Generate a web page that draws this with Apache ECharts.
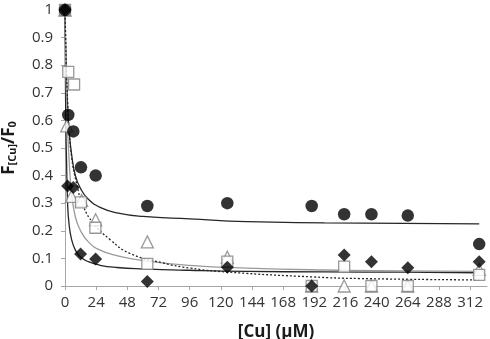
<!DOCTYPE html>
<html>
<head>
<meta charset="utf-8">
<script src="https://cdn.jsdelivr.net/npm/echarts@6/dist/echarts.min.js"></script>
<style>
  html, body { margin: 0; padding: 0; background: #fff; }
  #chart { width: 490px; height: 339px; }
</style>
</head>
<body>
<div id="chart"></div>
<script>
// measured points, one x/y pair of arrays per series
const circleX = [0, 2.5, 6.4, 12.3, 23.6, 63.4, 125, 190, 215, 236, 264, 319];
const circleY = [1, 0.62, 0.56, 0.43, 0.40, 0.29, 0.30, 0.29, 0.26, 0.26, 0.255, 0.152];
const diamondX = [0, 2, 6.4, 12, 23.6, 63.4, 125, 190, 215, 236, 264, 319];
const diamondY = [1, 0.362, 0.357, 0.116, 0.098, 0.016, 0.068, 0, 0.112, 0.088, 0.066, 0.088];
const squareX = [0, 2.5, 7, 12.3, 23.4, 63.4, 125, 190, 215, 236, 264, 319];
const squareY = [1, 0.776, 0.73, 0.303, 0.211, 0.08, 0.088, 0, 0.07, 0, 0, 0.04];
const triangleX = [0, 1.3, 5, 12.8, 23.6, 63.4, 125, 190, 215, 236, 264, 319];
const triangleY = [1, 0.58, 0.325, 0.31, 0.24, 0.16, 0.104, 0, 0, 0, 0, 0.06];

// fitted curves
const fitCircleX = [0, 0.5, 1, 2, 3, 5, 8, 12, 18, 27, 40, 60, 96, 140, 200, 260, 319];
const fitCircleY = [1, 0.87, 0.775, 0.65, 0.57, 0.48, 0.40, 0.353, 0.314, 0.285, 0.265, 0.252, 0.243, 0.233, 0.229, 0.227, 0.225];
const fitDiamondX = [0, 0.3, 0.7, 1.2, 2, 3, 5, 8, 12, 18, 27, 40, 60, 96, 140, 200, 260, 319];
const fitDiamondY = [1, 0.78, 0.57, 0.45, 0.30, 0.23, 0.17, 0.13, 0.105, 0.088, 0.075, 0.067, 0.062, 0.057, 0.053, 0.051, 0.05, 0.048];
const fitTriangleX = [0, 0.5, 1, 2, 3, 5, 8, 12, 18, 27, 40, 60, 96, 140, 200, 260, 319];
const fitTriangleY = [1, 0.83, 0.72, 0.57, 0.47, 0.34, 0.25, 0.20, 0.16, 0.13, 0.11, 0.092, 0.075, 0.065, 0.058, 0.055, 0.053];
const fitSquareX = [0, 0.5, 1, 2, 3, 5, 9, 14, 22, 35, 50, 75, 96, 127, 190, 227, 319];
const fitSquareY = [1, 0.9, 0.8, 0.67, 0.58, 0.47, 0.37, 0.29, 0.227, 0.167, 0.118, 0.084, 0.065, 0.05, 0.033, 0.027, 0.022];

const xTickStep = 24;
const yTickStep = 0.1;

const pairs = (xs, ys) => xs.map((x, i) => [x, ys[i]]);

const chart = echarts.init(document.getElementById('chart'));

const lineSeries = (xs, ys, color, type) => ({
  type: 'line',
  data: pairs(xs, ys),
  smooth: true,
  showSymbol: false,
  silent: true,
  z: 1,
  lineStyle: { color: color, width: 1.3, type: type },
});

chart.setOption({
  animation: false,
  textStyle: { fontFamily: 'Open Sans' },
  grid: { left: 65, right: 3, top: 10, bottom: 53, outerBoundsMode: 'none', containLabel: false },
  xAxis: {
    type: 'value',
    min: 0,
    max: 325,
    interval: xTickStep,
    name: '[Cu] (\u03bcM)',
    nameLocation: 'middle',
    nameGap: 38,
    nameTextStyle: { fontSize: 17, fontWeight: 'bold', color: '#1a1a1a' },
    axisLine: { show: true, lineStyle: { color: '#a6a6a6', width: 1 } },
    axisTick: { show: true, length: 4, lineStyle: { color: '#a6a6a6' } },
    axisLabel: {
      fontSize: 15,
      color: '#333',
      margin: 9,
      showMaxLabel: false,
      formatter: (v) => (v % xTickStep === 0 ? String(v) : ''),
    },
    splitLine: { show: false },
  },
  yAxis: {
    type: 'value',
    min: 0,
    max: 1,
    interval: yTickStep,
    name: '{b|F}{s|[Cu]}{b|/F}{s|0}',
    nameLocation: 'middle',
    nameRotate: 90,
    nameGap: 45,
    nameTextStyle: {
      rich: {
        b: { fontSize: 17, fontWeight: 'bold', color: '#1a1a1a', lineHeight: 22 },
        s: { fontSize: 11, fontWeight: 'bold', color: '#1a1a1a', lineHeight: 22, padding: [8, 0, 0, 0] },
      },
    },
    axisLine: { show: true, lineStyle: { color: '#a6a6a6', width: 1 } },
    axisTick: { show: true, length: 4, lineStyle: { color: '#a6a6a6' } },
    axisLabel: { fontSize: 15, color: '#333', margin: 12 },
    splitLine: { show: false },
  },
  series: [
    lineSeries(fitCircleX, fitCircleY, '#262626', 'solid'),
    lineSeries(fitDiamondX, fitDiamondY, '#262626', 'solid'),
    lineSeries(fitTriangleX, fitTriangleY, '#9a9a9a', 'solid'),
    lineSeries(fitSquareX, fitSquareY, '#262626', [2, 2]),
    {
      type: 'scatter',
      data: pairs(triangleX, triangleY),
      symbol: 'triangle',
      symbolSize: 12,
      z: 3,
      itemStyle: { color: '#fff', borderColor: '#7f7f7f', borderWidth: 1.3 },
    },
    {
      type: 'scatter',
      data: pairs(squareX, squareY),
      symbol: 'rect',
      symbolSize: 11,
      z: 4,
      itemStyle: { color: '#fff', borderColor: '#7f7f7f', borderWidth: 1.3 },
    },
    {
      type: 'scatter',
      data: pairs(diamondX, diamondY),
      symbol: 'diamond',
      symbolSize: 13,
      z: 5,
      itemStyle: { color: '#000' },
    },
    {
      type: 'scatter',
      data: pairs(circleX, circleY),
      symbol: 'circle',
      symbolSize: 12.5,
      z: 6,
      itemStyle: { color: '#000' },
    },
  ],
});
</script>
</body>
</html>
